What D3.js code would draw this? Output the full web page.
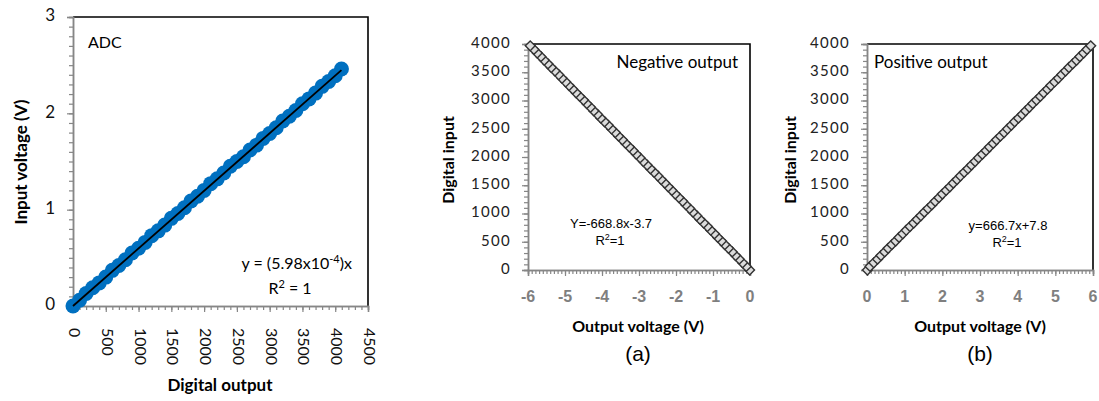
<!DOCTYPE html>
<html>
<head>
<meta charset="utf-8">
<script src="https://cdn.jsdelivr.net/npm/d3@7"></script>
<style>
  body { margin: 0; background: #fff; }
  svg { display: block; }
</style>
</head>
<body>
<svg width="1099" height="401"></svg>
<script>
// ADC panel: digital output code vs measured input voltage
var adcCodes = [0, 100, 200, 300, 400, 500, 600, 700, 800, 900, 1000, 1100, 1200, 1300, 1400, 1500,
  1600, 1700, 1800, 1900, 2000, 2100, 2200, 2300, 2400, 2500, 2600, 2700, 2800, 2900, 3000, 3100,
  3200, 3300, 3400, 3500, 3600, 3700, 3800, 3900, 4000, 4095];
var adcVolts = [0.00, 0.06, 0.13, 0.19, 0.24, 0.30, 0.37, 0.42, 0.48, 0.55, 0.60, 0.66, 0.73, 0.78,
  0.84, 0.91, 0.96, 1.02, 1.09, 1.14, 1.20, 1.27, 1.32, 1.38, 1.45, 1.50, 1.55, 1.62, 1.67, 1.74,
  1.79, 1.85, 1.92, 1.97, 2.03, 2.10, 2.15, 2.21, 2.28, 2.33, 2.39, 2.46];
var adcSlope = 5.98e-4;

// DAC panels: digital input code vs output voltage
var dacCodes = [0, 64, 128, 192, 256, 320, 384, 448, 512, 576, 640, 704, 768, 832, 896, 960, 1024,
  1088, 1152, 1216, 1280, 1344, 1408, 1472, 1536, 1600, 1664, 1728, 1792, 1856, 1920, 1984, 2048,
  2112, 2176, 2240, 2304, 2368, 2432, 2496, 2560, 2624, 2688, 2752, 2816, 2880, 2944, 3008, 3072,
  3136, 3200, 3264, 3328, 3392, 3456, 3520, 3584, 3648, 3712, 3776, 3840, 3904, 3968];
var negVolts = [-0.01, -0.10, -0.20, -0.29, -0.39, -0.48, -0.58, -0.68, -0.77, -0.87, -0.96, -1.06,
  -1.15, -1.25, -1.35, -1.44, -1.54, -1.63, -1.73, -1.82, -1.92, -2.02, -2.11, -2.21, -2.30, -2.40,
  -2.49, -2.59, -2.69, -2.78, -2.88, -2.97, -3.07, -3.16, -3.26, -3.36, -3.45, -3.55, -3.64, -3.74,
  -3.83, -3.93, -4.03, -4.12, -4.22, -4.31, -4.41, -4.50, -4.60, -4.70, -4.79, -4.89, -4.98, -5.08,
  -5.17, -5.27, -5.37, -5.46, -5.56, -5.65, -5.75, -5.84, -5.94];
var posVolts = [0.01, 0.08, 0.18, 0.28, 0.37, 0.47, 0.56, 0.66, 0.76, 0.85, 0.95, 1.04, 1.14, 1.24,
  1.33, 1.43, 1.52, 1.62, 1.72, 1.81, 1.91, 2.00, 2.10, 2.20, 2.29, 2.39, 2.48, 2.58, 2.68, 2.77,
  2.87, 2.96, 3.06, 3.16, 3.25, 3.35, 3.44, 3.54, 3.64, 3.73, 3.83, 3.92, 4.02, 4.12, 4.21, 4.31,
  4.40, 4.50, 4.60, 4.69, 4.79, 4.88, 4.98, 5.08, 5.17, 5.27, 5.36, 5.46, 5.56, 5.65, 5.75, 5.84, 5.94];

var adcXTicks = [0, 500, 1000, 1500, 2000, 2500, 3000, 3500, 4000, 4500];
var adcYTicks = [0, 1, 2, 3];
var dacYTicks = [0, 500, 1000, 1500, 2000, 2500, 3000, 3500, 4000];
var negXTicks = [-6, -5, -4, -3, -2, -1, 0];
var posXTicks = [0, 1, 2, 3, 4, 5, 6];

var svg = d3.select("svg");
var calibri = "Lato, 'Open Sans', sans-serif";
var arial = "'Liberation Sans', Arial, sans-serif";
var axisGrey = "#868686";

// minor + major ticks drawn with d3 axes, then restyled
function drawAxis(g, axis) {
  g.call(axis);
  g.select(".domain").attr("stroke", axisGrey).attr("stroke-width", 1.5);
  g.selectAll(".tick line").attr("stroke", axisGrey).attr("stroke-width", 1.2);
}

function frame(x0, x1, y0, y1) { //black top and right border
  svg.append("path")
    .attr("d", "M" + x0 + "," + y0 + "H" + x1 + "V" + y1)
    .attr("fill", "none").attr("stroke", "#000").attr("stroke-width", 1.6);
}

// ---------- ADC panel ----------
var ax = d3.scaleLinear().domain([0, 4500]).range([73, 368]);
var ay = d3.scaleLinear().domain([0, 3]).range([306, 17]);

frame(73, 368, 17, 306);

drawAxis(svg.append("g").attr("transform", "translate(0,306)"),
  d3.axisBottom(ax).ticks(45).tickSize(4).tickFormat(""));
drawAxis(svg.append("g").attr("transform", "translate(0,306)"),
  d3.axisBottom(ax).tickValues(adcXTicks).tickSize(6).tickFormat(""));
drawAxis(svg.append("g").attr("transform", "translate(73,0)"),
  d3.axisLeft(ay).ticks(30).tickSize(4).tickFormat(""));
drawAxis(svg.append("g").attr("transform", "translate(73,0)"),
  d3.axisLeft(ay).tickValues(adcYTicks).tickSize(6).tickFormat(""));

svg.selectAll(".adc-xlab").data(adcXTicks).enter().append("text")
  .attr("transform", function(d) { return "translate(" + ax(d) + ",328) rotate(90)"; })
  .attr("dominant-baseline", "middle")
  .attr("font-family", calibri).attr("font-size", 16).attr("fill", "#111")
  .text(function(d) { return d; });
svg.selectAll(".adc-ylab").data(adcYTicks).enter().append("text")
  .attr("x", 55).attr("y", function(d) { return ay(d); })
  .attr("text-anchor", "end").attr("dominant-baseline", "middle")
  .attr("font-family", calibri).attr("font-size", 17).attr("fill", "#111")
  .text(function(d) { return d; });

var adcPts = adcCodes.map(function(c, i) { return [c, adcVolts[i]]; });
svg.append("g").selectAll("circle").data(adcPts).enter().append("circle")
  .attr("cx", function(d) { return ax(d[0]); })
  .attr("cy", function(d) { return ay(d[1]); })
  .attr("r", 7.5).attr("fill", "#0070c0");
svg.append("line") //fitted line y = 5.98e-4 x
  .attr("x1", ax(0)).attr("y1", ay(0))
  .attr("x2", ax(4095)).attr("y2", ay(adcSlope * 4095))
  .attr("stroke", "#000").attr("stroke-width", 1.8);

svg.append("text").attr("x", 88).attr("y", 48)
  .attr("font-family", calibri).attr("font-size", 16).text("ADC");
var eq = svg.append("text").attr("x", 352).attr("y", 269).attr("text-anchor", "end")
  .attr("font-family", calibri).attr("font-size", 16);
eq.append("tspan").text("y = (5.98x10");
eq.append("tspan").attr("dy", -6).attr("font-size", 11).text("-4");
eq.append("tspan").attr("dy", 6).text(")x");
var r2 = svg.append("text").attr("x", 290).attr("y", 294).attr("text-anchor", "middle")
  .attr("font-family", calibri).attr("font-size", 16);
r2.append("tspan").text("R");
r2.append("tspan").attr("dy", -6).attr("font-size", 11).text("2");
r2.append("tspan").attr("dy", 6).text(" = 1");

svg.append("text").attr("x", 220).attr("y", 391).attr("text-anchor", "middle")
  .attr("font-family", calibri).attr("font-weight", "bold").attr("font-size", 17)
  .text("Digital output");
svg.append("text").attr("transform", "translate(27,162) rotate(-90)").attr("text-anchor", "middle")
  .attr("font-family", calibri).attr("font-weight", "bold").attr("font-size", 17)
  .text("Input voltage (V)");

// ---------- DAC panels ----------
function dacPanel(opt) {
  var x = d3.scaleLinear().domain(opt.xDomain).range([opt.left, opt.right]);
  var y = d3.scaleLinear().domain([0, 4000]).range([270, 44]);

  frame(opt.left, opt.right, 44, 270);

  drawAxis(svg.append("g").attr("transform", "translate(0,270)"),
    d3.axisBottom(x).ticks(60).tickSize(4).tickFormat(""));
  drawAxis(svg.append("g").attr("transform", "translate(0,270)"),
    d3.axisBottom(x).tickValues(opt.xTicks).tickSize(6).tickFormat(""));
  drawAxis(svg.append("g").attr("transform", "translate(" + opt.left + ",0)"),
    d3.axisLeft(y).ticks(40).tickSize(4).tickFormat(""));
  drawAxis(svg.append("g").attr("transform", "translate(" + opt.left + ",0)"),
    d3.axisLeft(y).tickValues(dacYTicks).tickSize(6).tickFormat(""));

  svg.append("g").selectAll("text").data(opt.xTicks).enter().append("text")
    .attr("x", function(d) { return x(d); }).attr("y", 302)
    .attr("text-anchor", "middle")
    .attr("font-family", arial).attr("font-weight", "bold").attr("font-size", 16)
    .attr("fill", "#7f7f7f")
    .text(function(d) { return d; });
  svg.append("g").selectAll("text").data(dacYTicks).enter().append("text")
    .attr("x", opt.left - 17).attr("y", function(d) { return y(d); })
    .attr("text-anchor", "end").attr("dominant-baseline", "middle")
    .attr("font-family", calibri).attr("font-size", 15).attr("letter-spacing", 1.3)
    .attr("fill", "#222")
    .text(function(d) { return d; });

  var pts = dacCodes.map(function(c, i) { return [opt.volts[i], c]; });
  svg.append("g").selectAll("path").data(pts).enter().append("path")
    .attr("d", d3.symbol(d3.symbolSquare, 48))
    .attr("transform", function(d) { return "translate(" + x(d[0]) + "," + y(d[1]) + ") rotate(45)"; })
    .attr("fill", "#dcdcdc").attr("stroke", "#333").attr("stroke-width", 1.4);

  svg.append("text").attr("x", opt.tagX).attr("y", 68).attr("text-anchor", opt.tagAnchor)
    .attr("font-family", calibri).attr("font-size", 17).text(opt.tag);
  svg.append("text").attr("x", opt.eqX).attr("y", opt.eqY).attr("text-anchor", "middle")
    .attr("font-family", arial).attr("font-size", 13).text(opt.eq);
  var r = svg.append("text").attr("x", opt.eqX - 1).attr("y", opt.eqY + 17).attr("text-anchor", "middle")
    .attr("font-family", arial).attr("font-size", 13);
  r.append("tspan").text("R");
  r.append("tspan").attr("dy", -5).attr("font-size", 9).text("2");
  r.append("tspan").attr("dy", 5).text("=1");

  svg.append("text").attr("x", opt.titleX).attr("y", 332).attr("text-anchor", "middle")
    .attr("font-family", calibri).attr("font-weight", "bold").attr("font-size", 16)
    .text("Output voltage (V)");
  svg.append("text").attr("transform", "translate(" + opt.yTitleX + ",160) rotate(-90)")
    .attr("text-anchor", "middle")
    .attr("font-family", calibri).attr("font-weight", "bold").attr("font-size", 16)
    .text("Digital input");
  svg.append("text").attr("x", opt.titleX).attr("y", 361).attr("text-anchor", "middle")
    .attr("font-family", arial).attr("font-size", 21).text(opt.sub);
}

dacPanel({ left: 528, right: 750, xDomain: [-6, 0], xTicks: negXTicks, volts: negVolts,
  tag: "Negative output", tagX: 738, tagAnchor: "end",
  eq: "Y=-668.8x-3.7", eqX: 611, eqY: 228, titleX: 638, yTitleX: 454, sub: "(a)" });
dacPanel({ left: 867, right: 1093, xDomain: [0, 6], xTicks: posXTicks, volts: posVolts,
  tag: "Positive output", tagX: 874, tagAnchor: "start",
  eq: "y=666.7x+7.8", eqX: 1008, eqY: 230, titleX: 980, yTitleX: 796, sub: "(b)" });
</script>
</body>
</html>
